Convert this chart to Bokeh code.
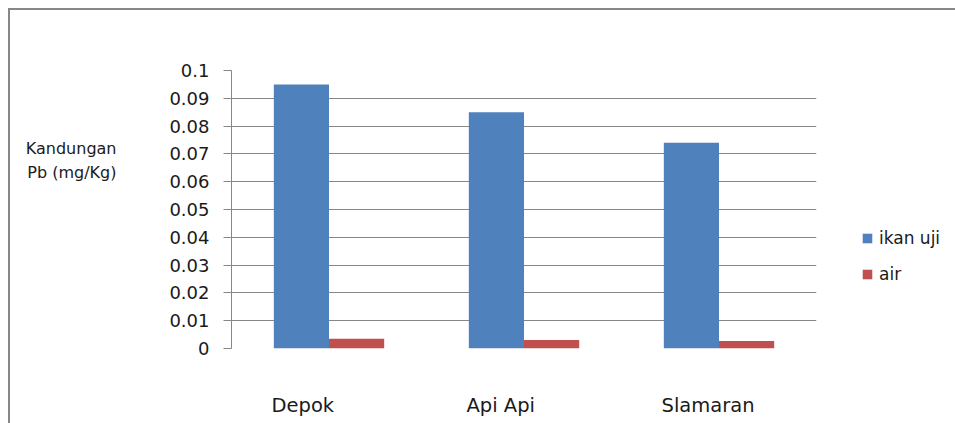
from bokeh.plotting import figure
from bokeh.models import (ColumnDataSource, Range1d, FixedTicker, Legend, LegendItem, LinearAxis)
from bokeh.transform import dodge
from bokeh.embed import file_html
from bokeh.resources import INLINE

# ---- data ----
categories = ["Depok", "Api Api", "Slamaran"]
ikan_uji = [0.095, 0.085, 0.074]
air = [0.0035, 0.0031, 0.0027]
series_names = ["ikan uji", "air"]
y_ticks = [0.0, 0.01, 0.02, 0.03, 0.04, 0.05, 0.06, 0.07, 0.08, 0.09, 0.1]
y_tick_labels = ["0", "0.01", "0.02", "0.03", "0.04", "0.05", "0.06", "0.07", "0.08", "0.09", "0.1"]
y_title_lines = ["Kandungan", "Pb (mg/Kg)"]
y_title_pos = [0.0719, 0.0632]   # vertical placement of the two title lines (layout only)

FONT = "DejaVu Sans"
GRID = "#878787"
BLUE = "#4F81BD"
RED = "#C0504D"
TXT = "#1a1a1a"
FRAME_W = 585
FRAME_H = 278
CAT_FONT_PX = 19.5
# DejaVu Sans advance widths (em) used to left-align the category labels
ADV = {"D": 0.770, "e": 0.615, "p": 0.635, "o": 0.612, "k": 0.579, "A": 0.684, "i": 0.278,
       " ": 0.318, "S": 0.635, "l": 0.278, "a": 0.613, "m": 0.974, "r": 0.411, "n": 0.634}

n = len(categories)
source = ColumnDataSource(dict(idx=list(range(n)), cat=categories, ikan=ikan_uji, air=air))

p = figure(x_range=Range1d(-0.5, n - 0.5), y_range=Range1d(0, 0.1),
           frame_width=FRAME_W, frame_height=FRAME_H, output_backend="svg", toolbar_location=None,
           min_border_left=221, min_border_right=139, min_border_top=60, min_border_bottom=75)
p.margin = (8, 0, 0, 8)
p.styles = {"border-left": "2px solid " + GRID, "border-top": "2px solid " + GRID}
p.outline_line_color = None
p.background_fill_color = "white"
p.border_fill_color = "white"

bw = 0.283
r1 = p.vbar(x=dodge("idx", -bw / 2), top="ikan", width=bw, source=source,
            fill_color=BLUE, line_color=None)
r2 = p.vbar(x=dodge("idx", bw / 2), top="air", width=bw, source=source,
            fill_color=RED, line_color=None)

# grid
p.xgrid.grid_line_color = None
p.ygrid.grid_line_color = GRID
p.ygrid.grid_line_width = 1
p.ygrid.ticker = FixedTicker(ticks=y_ticks)

# y axis
ya = p.yaxis[0]
ya.ticker = FixedTicker(ticks=y_ticks)
ya.major_label_overrides = {t: l for t, l in zip(y_ticks, y_tick_labels)}
ya.axis_line_color = GRID
ya.major_tick_line_color = GRID
ya.major_tick_out = 8
ya.major_tick_in = 0
ya.minor_tick_line_color = None
ya.major_label_standoff = 14
ya.major_label_text_font = FONT
ya.major_label_text_font_size = "18px"
ya.major_label_text_color = TXT

# y title as a second (bare) left axis whose tick labels are the two title lines
ta = LinearAxis(ticker=FixedTicker(ticks=y_title_pos),
                major_label_overrides={t: l for t, l in zip(y_title_pos, y_title_lines)},
                axis_line_color=None, major_tick_line_color=None, minor_tick_line_color=None,
                major_tick_out=0, major_tick_in=0, major_label_standoff=50,
                major_label_text_font=FONT, major_label_text_font_size="16px",
                major_label_text_color=TXT)
p.add_layout(ta, "left")

# category labels: main x axis hidden; labels placed so that each starts ~57px
# left of its category centre (as in the reference)
p.xaxis.visible = False
px_per_cat = FRAME_W / n
label_ticks = []
for i, c in enumerate(categories):
    w = sum(ADV.get(ch, 0.6) for ch in c) * CAT_FONT_PX
    label_ticks.append(round(i + (-57.5 + w / 2) / px_per_cat, 4))
xa = LinearAxis(ticker=FixedTicker(ticks=label_ticks),
                major_label_overrides={t: c for t, c in zip(label_ticks, categories)},
                axis_line_color=None, major_tick_line_color=None, minor_tick_line_color=None,
                major_tick_out=0, major_tick_in=0, major_label_standoff=45,
                major_label_text_font=FONT, major_label_text_font_size=f"{CAT_FONT_PX}px",
                major_label_text_color=TXT)
p.add_layout(xa, "below")

legend = Legend(items=[LegendItem(label=series_names[0], renderers=[r1]),
                       LegendItem(label=series_names[1], renderers=[r2])],
                location=(45, 64), padding=0, margin=0, spacing=16,
                glyph_width=12, glyph_height=12, label_standoff=6,
                label_text_font=FONT, label_text_font_size="17px", label_text_color=TXT,
                border_line_color=None, background_fill_alpha=0)
p.add_layout(legend, "right")

open("out.html", "w").write(file_html(p, INLINE))
